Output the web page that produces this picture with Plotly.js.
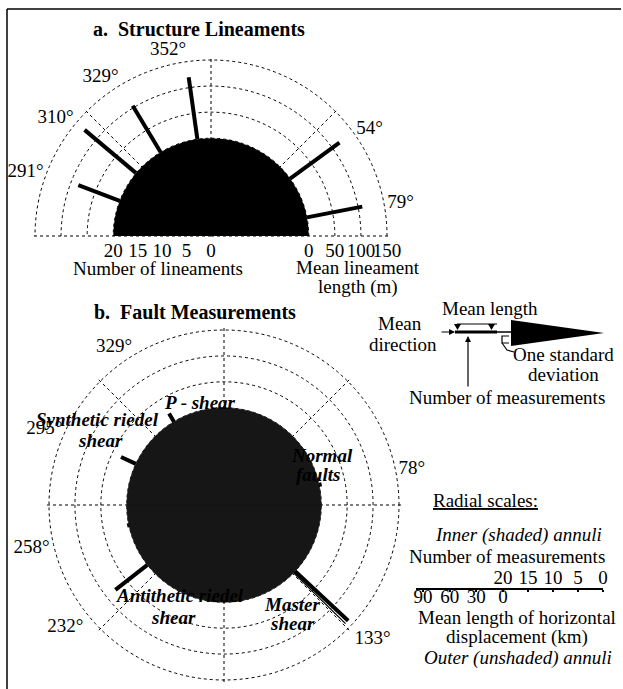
<!DOCTYPE html>
<html>
<head>
<meta charset="utf-8">
<script src="https://cdn.plot.ly/plotly-3.0.1.min.js"></script>
<style>html,body{margin:0;padding:0;background:#fff}#chart{width:623px;height:689px}</style>
</head>
<body>
<div id="chart"></div>
<script>
// ---------- data ----------
// a. Structure lineaments (mean direction, mean length in m)
const aDirs = [291, 310, 329, 352, 54, 79];
const aLens = [85, 129, 104, 120, 117, 108];
const aInnerCounts = [20];               // shaded inner rose (number of lineaments)
const aCountTicks = [20, 15, 10, 5, 0];
const aLenTicks = [0, 50, 100, 150];

// b. Fault measurements (mean direction, mean horizontal displacement in km)
const bDirs = [329, 295, 258, 232, 133, 78];
const bLens = [11, 19, 2, 47, 84, 3];
const bInnerCounts = [20, 20];           // shaded inner rose (number of measurements)
const bMasterSdDir = 134.3, bMasterLen = 84;
const bCountTicks = [20, 15, 10, 5, 0];
const bLenTicks = [0, 30, 60, 90];

// ---------- helpers ----------
const W = 623, H = 689;
const px = x => x / W, py = y => 1 - y / H;
const FONT = 'Liberation Serif, Times New Roman, serif';
const INNER = 20, RMAX = 36.6, ROUT = 36;
const kA = 16 / 150, kB = 16 / 90;
const deg = d => d + '°';
const signed = d => (d > 180 ? d - 360 : d);

function segs(dirs, lens, k) {
  const r = [], t = [];
  dirs.forEach((d, i) => { r.push(INNER, INNER + lens[i] * k, null); t.push(d, d, null); });
  return {r, t};
}

function gridPolar(dx, dy, sector, rings, spokes) {
  return {
    domain: {x: dx, y: dy}, sector: sector, bgcolor: '#fff',
    angularaxis: {rotation: 90, direction: 'clockwise', tickmode: 'array',
      tickvals: spokes, showticklabels: false, ticks: '',
      showgrid: true, gridcolor: '#000', griddash: 'dot', gridwidth: 1, showline: false},
    radialaxis: {range: [0, RMAX], tickmode: 'array', tickvals: rings, showticklabels: false,
      ticks: '', showline: false, showgrid: true, gridcolor: '#000', griddash: 'dot', gridwidth: 1}
  };
}
function dataPolar(dx, dy, sector, vals, labels) {
  return {
    domain: {x: dx, y: dy}, sector: sector, bgcolor: 'rgba(0,0,0,0)',
    angularaxis: {rotation: 90, direction: 'clockwise', tickmode: 'array',
      tickvals: vals, ticktext: labels, showgrid: false, showline: false, ticks: '',
      tickfont: {family: FONT, size: 19, color: '#000'}},
    radialaxis: {range: [0, RMAX], showgrid: false, showticklabels: false, ticks: '', showline: false}
  };
}

// outer ring (ROUT) has radius 176 px (a) / 175 px (b); domain radius covers RMAX
const RA = 176 * RMAX / ROUT, RB = 175 * RMAX / ROUT;
const cA = [211, 236], cB = [224, 505];
const domA = {x: [px(cA[0] - RA), px(cA[0] + RA)], y: [py(cA[1]), py(cA[1] - RA)]};
const domB = {x: [px(cB[0] - RB), px(cB[0] + RB)], y: [py(cB[1] + RB), py(cB[1] - RB)]};
const ringsA = aLenTicks.map(v => INNER + v * kA);
const ringsB = bLenTicks.map(v => INNER + v * kB);

const sa = segs(aDirs.map(signed), aLens, kA);
const sb = segs(bDirs, bLens, kB);
const ghost = sp => ({type: 'scatterpolar', subplot: sp, mode: 'markers', r: [0], theta: [0],
  marker: {opacity: 0, size: 1}, hoverinfo: 'skip'});

const traces = [
  ghost('polar'),
  ghost('polar3'),
  {type: 'barpolar', subplot: 'polar2', r: aInnerCounts, theta: [0], width: [180],
   marker: {color: '#000', line: {width: 0}}, hoverinfo: 'skip'},
  {type: 'scatterpolar', subplot: 'polar2', mode: 'lines', r: sa.r, theta: sa.t,
   line: {color: '#000', width: 4}, connectgaps: false, hoverinfo: 'skip'},
  {type: 'barpolar', subplot: 'polar4', r: bInnerCounts, theta: [0, 180], width: [180, 180],
   marker: {color: '#161616', line: {width: 0.6, color: '#161616'}}, hoverinfo: 'skip'},
  {type: 'scatterpolar', subplot: 'polar4', mode: 'lines',
   r: [INNER, INNER + bMasterLen * kB], theta: [bMasterSdDir, bMasterSdDir],
   line: {color: '#000', width: 1.3}, hoverinfo: 'skip'},
  {type: 'scatterpolar', subplot: 'polar4', mode: 'lines', r: sb.r, theta: sb.t,
   line: {color: '#000', width: 4}, connectgaps: false, hoverinfo: 'skip'},
  // invisible anchors for cartesian label axes
  {type: 'scatter', x: [0], y: [0], xaxis: 'x', yaxis: 'y', mode: 'markers', marker: {opacity: 0}, hoverinfo: 'skip'},
  {type: 'scatter', x: [0], y: [0], xaxis: 'x3', yaxis: 'y3', mode: 'markers', marker: {opacity: 0}, hoverinfo: 'skip'},
  {type: 'scatter', x: [0], y: [0], xaxis: 'x4', yaxis: 'y4', mode: 'markers', marker: {opacity: 0}, hoverinfo: 'skip'},
  {type: 'scatter', x: [0], y: [0], xaxis: 'x5', yaxis: 'y5', mode: 'markers', marker: {opacity: 0}, hoverinfo: 'skip'}
];

function ann(text, x, y, size, extra) {
  return Object.assign({text: text, x: px(x), y: py(y), xref: 'paper', yref: 'paper',
    xanchor: 'center', yanchor: 'middle', showarrow: false,
    font: {family: FONT, size: size || 19, color: '#000'}}, extra || {});
}
function arrow(x, y, ax, ay) {
  return {text: '', x: px(x), y: py(y), xref: 'paper', yref: 'paper', showarrow: true,
    ax: ax, ay: ay, arrowhead: 2, arrowsize: 1, arrowwidth: 1.2, arrowcolor: '#000'};
}
function path(pts, close) {
  return 'M' + pts.map(p => px(p[0]).toFixed(5) + ',' + py(p[1]).toFixed(5)).join(' L') + (close ? ' Z' : '');
}
function line(x0, y0, x1, y1, w) {
  return {type: 'line', xref: 'paper', yref: 'paper', x0: px(x0), y0: py(y0), x1: px(x1), y1: py(y1),
    line: {color: '#000', width: w}};
}

const annotations = [
  ann('<b>a.  Structure Lineaments</b>', 199, 29, 20),
  ann('Number of lineaments', 158, 268),
  ann('Mean lineament', 358, 267),
  ann('length (m)', 358, 287),
  ann('<b>b.  Fault Measurements</b>', 195, 312, 20),
  ann('<em>P - shear</em>', 200, 402),
  ann('<em>Synthetic riedel</em>', 97, 419),
  ann('<em>shear</em>', 100, 440),
  ann('<em>Normal</em>', 322, 455),
  ann('<em>faults</em>', 318, 474),
  ann('<em>Antithetic riedel</em>', 180, 595),
  ann('<em>shear</em>', 173, 617),
  ann('<em>Master</em>', 292, 604),
  ann('<em>shear</em>', 292, 623),
  // legend glyph texts
  ann('Mean length', 490, 308),
  ann('Mean', 400, 324),
  ann('direction', 403, 344),
  ann('One standard', 563, 354),
  ann('deviation', 563, 374),
  ann('Number of measurements', 507, 397),
  ann('<u>Radial scales:</u>', 485, 500),
  ann('<i>Inner (shaded) annuli</i>', 518, 535),
  ann('Number of measurements', 507, 556),
  ann('Mean length of horizontal', 517, 617),
  ann('displacement (km)', 517, 637),
  ann('<i>Outer (unshaded) annuli</i>', 518, 658),
  arrow(455, 332, -15, 0),
  arrow(468, 336, 0, 52)
];

const shapes = [
  line(7, 9, 621, 9, 1.5),
  line(7, 9, 7, 689, 1.5),
  // legend glyph
  line(455, 332, 497, 332, 3),
  line(497, 332, 511, 332, 1.5),
  line(457, 324, 497, 324, 1.2),
  {type: 'path', xref: 'paper', yref: 'paper', path: path([[454, 324], [461, 324], [457.5, 330]], true), fillcolor: '#000', line: {width: 0}},
  {type: 'path', xref: 'paper', yref: 'paper', path: path([[488, 324], [495, 324], [491.5, 330]], true), fillcolor: '#000', line: {width: 0}},
  {type: 'path', xref: 'paper', yref: 'paper', path: path([[511, 320], [604, 333], [511, 346]], true), fillcolor: '#000', line: {width: 0}},
  {type: 'path', xref: 'paper', yref: 'paper', path: path([[509, 336], [502, 336], [502, 343], [509, 343]], false), line: {color: '#000', width: 1.2}},
  {type: 'path', xref: 'paper', yref: 'paper', path: path([[502, 343], [507, 350], [514, 352]], false), line: {color: '#000', width: 1.2}}
];

const tickFont = {family: FONT, size: 19, color: '#000'};
const legTicks = bCountTicks.concat(bLenTicks.map(v => INNER + v * kB));
const LEGR = [37.4, 0], legDom = [px(416), px(603)];
const layout = {
  width: W, height: H, margin: {l: 0, r: 0, t: 0, b: 0},
  paper_bgcolor: '#fff', plot_bgcolor: 'rgba(0,0,0,0)', showlegend: false,
  font: {family: FONT, size: 19, color: '#000'},
  polar: gridPolar(domA.x, domA.y, [0, 180], ringsA, [-180, -135, -90, -45, 0, 45, 90, 135]),
  polar2: dataPolar(domA.x, domA.y, [0, 180], aDirs.map(signed), aDirs.map(deg)),
  polar3: gridPolar(domB.x, domB.y, [0, 360], ringsB, [0, 45, 90, 135, 180, 225, 270, 315]),
  polar4: dataPolar(domB.x, domB.y, [0, 360], bDirs, bDirs.map(deg)),
  xaxis: {domain: domA.x, range: [-RMAX, RMAX], anchor: 'y', tickmode: 'array', tickangle: 0,
    tickvals: aCountTicks.map(c => -c).concat(aLenTicks.map(v => INNER + v * kA)),
    ticktext: aCountTicks.map(String).concat(aLenTicks.map(String)),
    showgrid: false, zeroline: false, showline: false, ticks: '', tickfont: tickFont, fixedrange: true},
  yaxis: {domain: [py(237), py(236)], range: [0, 1], visible: false, fixedrange: true},
  // legend scale line with tick marks
  xaxis3: {domain: legDom, range: LEGR, anchor: 'y3', tickmode: 'array',
    tickvals: legTicks, showticklabels: false,
    showgrid: false, zeroline: false, showline: true, linecolor: '#000', linewidth: 1.5,
    ticks: 'outside', ticklen: 2, tickwidth: 2, tickcolor: '#000', fixedrange: true},
  yaxis3: {domain: [py(588), py(587)], range: [0, 1], visible: false, fixedrange: true},
  // counts above the line
  xaxis4: {domain: legDom, side: 'top', range: LEGR, anchor: 'y4', tickmode: 'array', tickangle: 0,
    tickvals: bCountTicks, ticktext: bCountTicks.map(String),
    showgrid: false, zeroline: false, showline: false, ticks: '', tickfont: tickFont, fixedrange: true},
  yaxis4: {domain: [py(590), py(589)], range: [0, 1], visible: false, fixedrange: true},
  // lengths below the line
  xaxis5: {domain: legDom, range: LEGR, anchor: 'y5', tickmode: 'array', tickangle: 0,
    tickvals: bLenTicks.map(v => INNER + v * kB), ticktext: bLenTicks.map(String),
    showgrid: false, zeroline: false, showline: false, ticks: '', tickfont: tickFont, fixedrange: true},
  yaxis5: {domain: [py(583), py(582)], range: [0, 1], visible: false, fixedrange: true},
  annotations: annotations,
  shapes: shapes
};

Plotly.newPlot('chart', traces, layout, {displayModeBar: false, staticPlot: true});
</script>
</body>
</html>
